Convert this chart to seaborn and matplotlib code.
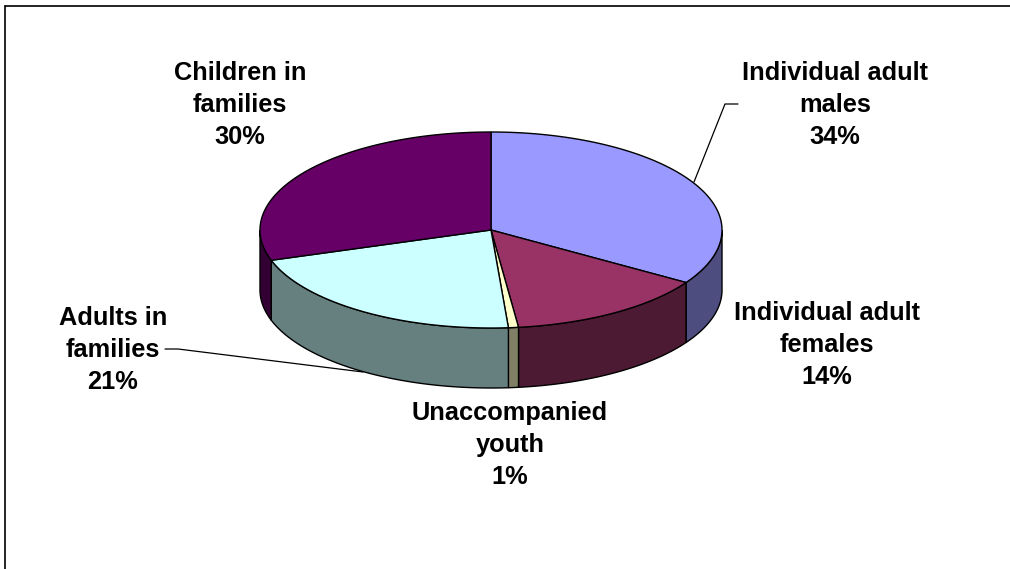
import numpy as np
import matplotlib
matplotlib.use("Agg")
import matplotlib.pyplot as plt
import seaborn as sns

# ---- data ----
categories = ["Individual adult\nmales", "Individual adult\nfemales", "Unaccompanied\nyouth",
              "Adults in\nfamilies", "Children in\nfamilies"]
shares = [34.0, 14.1, 0.7, 21.2, 30.0]
top_colors = ["#9999FF", "#993366", "#FFFFCC", "#CCFFFF", "#660066"]
side_colors = ["#4D4D80", "#4D1A33", "#808066", "#668080", "#330033"]

sns.set_style("white")
plt.rcParams['font.family'] = ['Liberation Sans', 'DejaVu Sans']

W, H = 1010, 569
fig = plt.figure(figsize=(W / 100, H / 100), dpi=100)
ax = fig.add_axes([0, 0, 1, 1])
ax.set_xlim(0, W)
ax.set_ylim(H, 0)
ax.axis("off")

# pie geometry (pixel space)
cx, cy, rx, ry, depth = 491, 230, 231, 98, 60

top_pal = sns.color_palette(top_colors)
side_pal = sns.color_palette(side_colors)

vals = np.array(shares)
fr = vals / vals.sum()
starts = np.concatenate([[0], np.cumsum(fr)[:-1]]) * 360
ends = np.cumsum(fr) * 360


def pt(theta_deg, yoff=0.0):
    t = np.radians(theta_deg)
    return cx + rx * np.sin(t), cy - ry * np.cos(t) + yoff


# side walls (visible front half: 90..270 deg)
for i, (a0, a1) in enumerate(zip(starts, ends)):
    s, e = max(a0, 90), min(a1, 270)
    if e <= s:
        continue
    th = np.linspace(s, e, 100)
    xt, yt = pt(th)
    xb, yb = pt(th[::-1], depth)
    ax.fill(np.concatenate([xt, xb]), np.concatenate([yt, yb]),
            facecolor=side_pal[i], edgecolor="black", linewidth=1.0, zorder=2)

# top faces
for i, (a0, a1) in enumerate(zip(starts, ends)):
    th = np.linspace(a0, a1, 200)
    xt, yt = pt(th)
    ax.fill(np.concatenate([[cx], xt]), np.concatenate([[cy], yt]),
            facecolor=top_pal[i], edgecolor="black", linewidth=1.0, zorder=3)

# labels
label_pos = [(835, 105), (827, 345), (510, 445), (113, 350), (240, 105)]
for name, v, (lx, ly) in zip(categories, vals, label_pos):
    ax.text(lx, ly, f"{name}\n{v:.0f}%", ha="center", va="center", color="black",
            fontsize=18.3, fontweight="bold", linespacing=1.42, zorder=5)

# leader lines
ax.plot([738, 725, 694], [104, 104, 182], color="black", lw=0.9, zorder=4)
ax.plot([165, 178, 363], [349, 349, 372], color="black", lw=0.9, zorder=4)

# chart area border (top and left visible)
ax.plot([5, W], [6, 6], color="black", lw=1.2, zorder=6)
ax.plot([5, 5], [6, H], color="black", lw=1.2, zorder=6)

fig.savefig("out.png", dpi=100)
